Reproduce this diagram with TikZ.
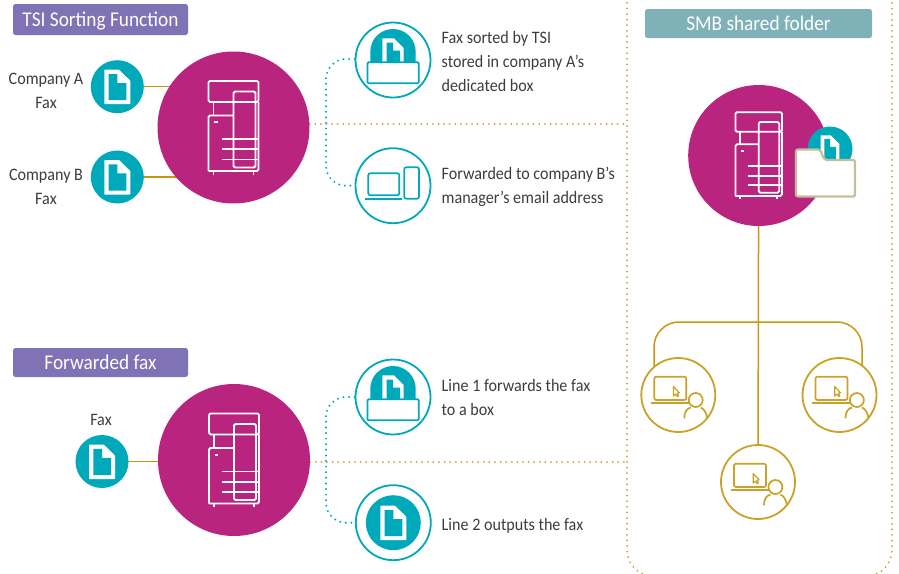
\documentclass[tikz,border=0pt]{standalone}
\usepackage{fontspec}
\setmainfont[FakeStretch=0.92]{Carlito}
\usetikzlibrary{backgrounds}
\definecolor{magen}{HTML}{B8247E}
\definecolor{tealc}{HTML}{00A9BA}
\definecolor{goldc}{HTML}{C9A227}
\definecolor{goldl}{HTML}{C8960F}
\definecolor{purp}{HTML}{7F72B5}
\definecolor{smbc}{HTML}{7FB1B9}
\definecolor{foldc}{HTML}{C4BF9A}
\definecolor{txt}{HTML}{3C3C3C}
\tikzset{
  x=1pt,y=-1pt,
  bigc/.style={circle,fill=magen,minimum size=152pt,inner sep=0pt},
  docc/.style={circle,fill=tealc,minimum size=53pt,inner sep=0pt},
  ringt/.style={circle,draw=tealc,fill=white,line width=1.8pt,minimum size=75pt,inner sep=0pt},
  ringg/.style={circle,draw=goldc,fill=white,line width=1.8pt,minimum size=74pt,inner sep=0pt},
  head/.style={rounded corners=2.5pt,text=white,font=\fontsize{21}{23}\selectfont,inner sep=0pt,minimum height=30pt,text height=13pt,text depth=0pt},
  lbl/.style={text=txt,font=\fontsize{17.5}{24}\selectfont,inner sep=0pt},
  goldline/.style={draw=goldl,line width=1.5pt},
  gdots/.style={draw=goldc,line width=2pt,line cap=round,dash pattern=on 0pt off 5.6pt},
  tdots/.style={draw=tealc,line width=2.2pt,line cap=round,dash pattern=on 0pt off 5.6pt},
  mfp/.pic={
    \begin{scope}[draw=white,line width=1.8pt,rounded corners=1.5pt]
      \draw (-25,-46.6) rectangle (25,-25.6);
      \draw (0,-36) rectangle (22,40);
      \draw (-25,43.5) -- (-25,-12) -- (0,-12);
      \draw (-25,43.5) -- (25,43.5) -- (25,-25.6);
      \draw (-20,-25.6) -- (-20,-12);
      \draw (-12,11.4) -- (25,11.4) (-12,21.7) -- (25,21.7) (-12,32) -- (25,32);
      \draw (-20,43.5) -- (-20,47) (20,43.5) -- (20,47);
    \end{scope}
    \fill[white] (-19.2,-6.3) rectangle (-16,-4.3);
  },
  docic/.pic={
    \fill[white,rounded corners=.6pt] (-13,-17) -- (1.7,-17) -- (13,-6) -- (13,17.5) -- (-13,17.5) -- cycle;
    \fill[tealc] (-8.7,-12.7) -- (0,-12.7) -- (0,-3.7) -- (9,-3.7) -- (9,13.5) -- (-8.7,13.5) -- cycle;
  },
  boxic/.pic={
    \fill[tealc] (-22.7,-8.3) arc[start angle=180,end angle=360,radius=22.7] -- (22.7,6) -- (-22.7,6) -- cycle;
    \fill[white] (-10.7,-21.7) -- (1,-21.7) -- (10.7,-12) -- (10.7,4) -- (-10.7,4) -- cycle;
    \fill[tealc] (-6.5,-17.5) -- (0,-17.5) -- (0,-9.5) -- (7,-9.5) -- (7,4) -- (-6.5,4) -- cycle;
    \draw[tealc,fill=white,line width=1.7pt,rounded corners=1pt] (-25.5,2.3) rectangle (25.7,23.3);
  },
  devic/.pic={
    \draw[tealc,line width=1.7pt,rounded corners=2pt] (-24.7,-12.4) rectangle (6.3,9.6);
    \draw[tealc,line width=1.7pt] (-27.7,13.3) -- (9,13.3);
    \draw[tealc,line width=1.7pt,rounded corners=2pt] (11.3,-18.4) rectangle (26,13);
  },
  userc/.pic={
    \draw[goldc,line width=1.7pt,rounded corners=2pt] (-24,-18.3) rectangle (8,5);
    \draw[goldc,line width=1.7pt] (-27.3,8.3) -- (11,8.3);
    \draw[goldc,fill=white,line width=1.2pt,line join=round] (-4.8,-8.5) -- (-4.8,1) -- (-2.7,-.8) -- (-.8,1.5) -- (.3,.8) -- (-1,-1.6) -- (1,-2.2) -- cycle;
    \draw[goldc,fill=white,line width=1.7pt] (17.4,5) circle[radius=7];
    \draw[goldc,line width=1.7pt] (6,23.3) .. controls (6,16) and (9,13.5) .. (12.5,12.5)
       (22.5,12.5) .. controls (26,14) and (28,18) .. (29,23);
  }
}
\begin{document}
\begin{tikzpicture}
\useasboundingbox (0,0) rectangle (899,573);
% nodes
\node[head,fill=purp,minimum width=175pt,minimum height=31pt] (h1) at (100.5,19.5) {TSI Sorting Function};
\node[head,fill=smbc,minimum width=227pt,minimum height=29pt] (h2) at (758.5,23.5) {SMB shared folder};
\node[head,fill=purp,minimum width=175pt,minimum height=29pt] (h3) at (100.5,362.5) {Forwarded fax};

\node[bigc] (m1) at (233.5,127.5) {};
\node[bigc] (m2) at (234,460) {};
\node[bigc,minimum size=141pt] (m3) at (758.7,155.5) {};
\pic at (m1) {mfp};
\pic at (m2) {mfp};
\pic[scale=.93] at (m3) {mfp};

\node[docc] (dA) at (117.3,86.7) {};
\node[docc] (dB) at (117.3,177) {};
\node[docc] (dC) at (102,461.5) {};
\pic at (dA) {docic};
\pic at (dB) {docic};
\pic at (dC) {docic};

\node[ringt] (r1) at (393,60) {};
\node[ringt] (r2) at (393,185.7) {};
\node[ringt] (r3) at (393,397) {};
\node[ringt] (r4) at (393.3,522.7) {};
\pic at (r1) {boxic};
\pic at (r2) {devic};
\pic at (r3) {boxic};
\node[circle,fill=tealc,minimum size=55pt,inner sep=0pt] (r4i) at (r4) {};
\pic at (r4) {docic};

% folder
\node[circle,fill=tealc,minimum size=45pt,inner sep=0pt] (fc) at (830,149) {};
\begin{scope}[shift={(830,149)},scale=.72]
  \fill[white] (-13,-19) -- (1,-19) -- (13,-7) -- (13,20) -- (-13,20) -- cycle;
  \fill[tealc] (-8,-14) -- (0,-14) -- (0,-3) -- (8,-3) -- (8,20) -- (-8,20) -- cycle;
\end{scope}
\draw[foldc,fill=white,line width=2.2pt,rounded corners=2pt] (796,149.5) -- (820,149.5) -- (824.5,160) -- (855,160) -- (855,196.5) -- (796,196.5) -- cycle;

\node[ringg] (u1) at (678.3,395) {};
\node[ringg] (u2) at (839.5,395) {};
\node[ringg] (u3) at (758,482) {};
\pic at (u1) {userc};
\pic at (u2) {userc};
\pic at (u3) {userc};

% labels
\node[lbl,align=center] (t1) at (46,90.5) {Company A\\Fax};
\node[lbl,align=center] (t2) at (46,187) {Company B\\Fax};
\node[lbl] (t3) at (101,420) {Fax};
\node[lbl,align=left,anchor=west] (t4) at (441.5,61) {Fax sorted by TSI\\stored in company A’s\\dedicated box};
\node[lbl,align=left,anchor=west] (t5) at (441.5,186.5) {Forwarded to company B’s\\manager’s email address};
\node[lbl,align=left,anchor=west] (t6) at (441.5,397) {Line 1 forwards the fax\\to a box};
\node[lbl,align=left,anchor=west] (t7) at (441.5,526) {Line 2 outputs the fax};

% connectors
\coordinate (e1) at (625,124);
\coordinate (e2) at (625,462);
\coordinate (t1a) at (326,59);
\coordinate (t1b) at (326,185.7);
\coordinate (t2a) at (326,397);
\coordinate (t2b) at (326,522.7);
\coordinate (tl) at (654,372);
\coordinate (tr) at (862,372);
\begin{scope}[on background layer]
  \draw[goldline] (dA.center) -- (dA.center -| m1.center);
  \draw[goldline] (dB.center) -- (dB.center -| m1.center);
  \draw[goldline] (dC.center) -- (dC.center -| m2.center);
  \draw[goldline] (m3) -- (u3);
  \draw[goldline,rounded corners=25pt] (tl) -- (654,322) -- (862,322) -- (tr);
  \draw[gdots] (e1 -| m1.east) -- (e1);
  \draw[gdots] (e2 -| m2.east) -- (e2);
  \draw[tdots,rounded corners=20pt] (r1.west |- t1a) -- (t1a) -- (t1b) -- (r2.west);
  \draw[tdots,rounded corners=20pt] (r3.west) -- (t2a) -- (t2b) -- (r4.west);
  \begin{scope}
    \clip (0,0) rectangle (899,573);
    \draw[gdots,rounded corners=26pt] (627,-40) rectangle (892,576);
  \end{scope}
\end{scope}
\end{tikzpicture}
\end{document}
